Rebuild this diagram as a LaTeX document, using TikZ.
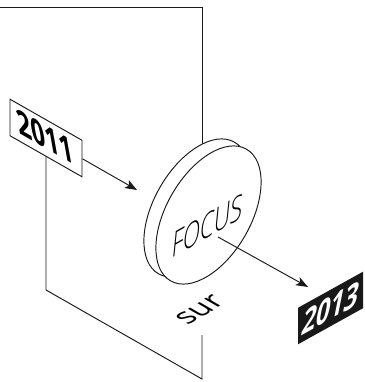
\documentclass[tikz,border=0pt]{standalone}
\usepackage{fontspec}
\setmainfont{Open Sans}
\newfontfamily\lightf{Open Sans}[UprightFont=* Light]
\usetikzlibrary{arrows.meta}
\tikzset{
 ln/.style={line width=0.95pt,black!90},
 arr/.style={ln,-{Stealth[length=12pt,width=9pt,inset=3pt]}},
 isobox/.style={inner sep=0pt,minimum height=36.5pt,transform shape},
 digits/.style={inner sep=0pt,transform shape,font=\fontsize{36}{36}\selectfont\bfseries},
}
\begin{document}
\begin{tikzpicture}[x=1pt,y=-1pt]
\useasboundingbox (0,0) rectangle (364,382);
% frame
\coordinate (tl) at (0,7);
\coordinate (tr) at (202,7);
\coordinate (tb) at (202,150);
\coordinate (bl) at (46,290);
\coordinate (bm) at (202,379);
\coordinate (bt) at (202,335);
\draw[ln] (tl) -- (tr) -- (tb);
% disc
\path[ln,draw,fill=white] (196.5,208) ellipse [x radius=76,y radius=42,rotate=60];
\path[ln,draw,fill=white] (208.5,215) coordinate (fc) ellipse [x radius=76,y radius=42,rotate=60];
% 2011
\node[isobox,draw=black!90,line width=0.95pt,fill=white,minimum width=72pt,cm={1,-0.57,0,1,(0,0)}] (a) at (46,138) {};
\node[digits,cm={1,-0.57,-0.18,1,(0,0)}] (at) at (45,137) {\scalebox{0.68}[1]{2011}};
\draw[ln] (a.south) -- (bl) -- (bm) -- (bt);
\coordinate (ah) at (137,190);
\draw[arr] (a.east) -- (ah);
% FOCUS
\node[inner sep=0pt,transform shape,cm={1,0.57,0.1,1,(0,0)},font=\fontsize{36}{36}\selectfont\lightf] (f) at (208,226) {\scalebox{0.62}[1]{FOCUS}};
% 2013
\node[isobox,fill=black!90,minimum width=65pt,cm={1,0.555,0,1,(0,0)}] (b) at (330.5,308) {};
\node[digits,text=white,cm={1,0.555,0.2,1,(0,0)}] (bt2) at (331,308) {\scalebox{0.68}[1]{2013}};
\coordinate (bs) at (218,237);
\coordinate (bh) at (308,287);
\draw[arr] (bs) -- (bh);
% sur
\node[inner sep=0pt,transform shape,cm={0.866,0.5,-0.866,0.5,(0,0)},font=\fontsize{30}{30}\selectfont] (s) at (200,310) {sur};
\end{tikzpicture}
\end{document}
